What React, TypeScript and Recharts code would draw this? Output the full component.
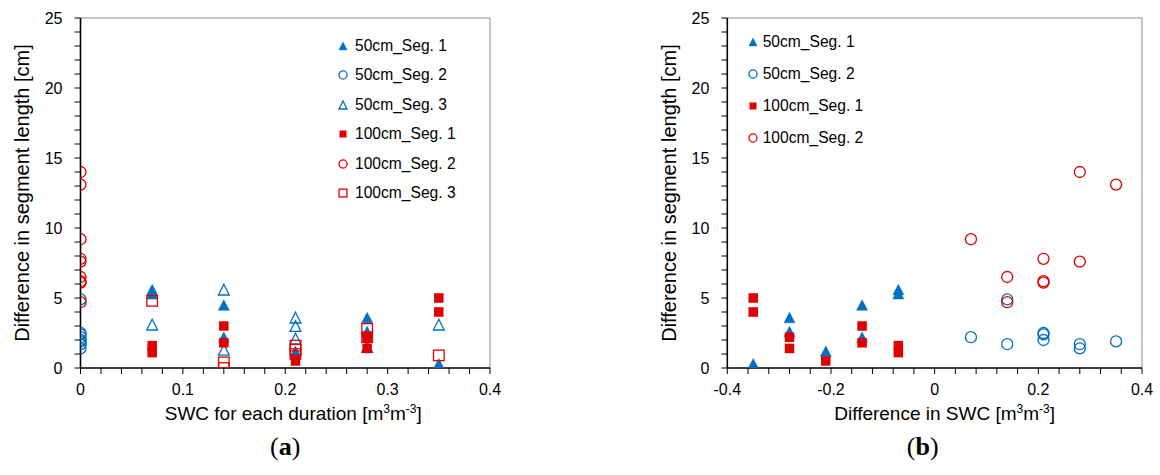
import React from 'react';
import { ScatterChart, Scatter, XAxis, YAxis, Legend, ReferenceLine, Label } from 'recharts';

const BLUE = '#0070C0';
const RED = '#E00000';
const FONT = '"Liberation Sans", Arial, sans-serif';

// ---------- Chart (a): SWC for each duration ----------
const a50s1X = [0.07, 0.07, 0.14, 0.14, 0.21, 0.28, 0.28, 0.35];
const a50s1Y = [5.6, 5.3, 4.5, 2.2, 1.2, 3.6, 2.6, 0.3];
const a50s2X = [0, 0, 0, 0, 0, 0, 0, 0, 0];
const a50s2Y = [2.2, 4.9, 1.7, 2.5, 2.4, 2.0, 1.7, 1.4, 1.9];
const a50s3X = [0.07, 0.14, 0.14, 0.21, 0.21, 0.21, 0.28, 0.35];
const a50s3Y = [3.1, 5.6, 1.3, 3.6, 3.0, 2.1, 1.5, 3.1];
const a100s1X = [0.07, 0.07, 0.14, 0.14, 0.21, 0.28, 0.28, 0.35, 0.35];
const a100s1Y = [1.6, 1.1, 3.0, 1.8, 0.5, 2.2, 1.4, 5.0, 4.0];
const a100s2X = [0, 0, 0, 0, 0, 0, 0, 0, 0];
const a100s2Y = [9.2, 6.5, 4.7, 7.8, 6.2, 6.1, 14.0, 7.6, 13.1];
const a100s3X = [0.07, 0.14, 0.14, 0.21, 0.21, 0.21, 0.28, 0.28, 0.35];
const a100s3Y = [4.8, 0.4, 0.0, 1.6, 1.3, 1.0, 2.8, 2.2, 0.9];

// ---------- Chart (b): Difference in SWC ----------
const b50s1X = [-0.35, -0.28, -0.28, -0.21, -0.14, -0.14, -0.07, -0.07];
const b50s1Y = [0.3, 3.6, 2.6, 1.2, 4.5, 2.2, 5.6, 5.3];
const b50s2X = [0.07, 0.14, 0.14, 0.21, 0.21, 0.21, 0.28, 0.28, 0.35];
const b50s2Y = [2.2, 4.9, 1.7, 2.5, 2.4, 2.0, 1.7, 1.4, 1.9];
const b100s1X = [-0.35, -0.35, -0.28, -0.28, -0.21, -0.14, -0.14, -0.07, -0.07];
const b100s1Y = [5.0, 4.0, 2.2, 1.4, 0.5, 3.0, 1.8, 1.6, 1.1];
const b100s2X = [0.07, 0.14, 0.14, 0.21, 0.21, 0.21, 0.28, 0.28, 0.35];
const b100s2Y = [9.2, 6.5, 4.7, 7.8, 6.2, 6.1, 14.0, 7.6, 13.1];

// ---------- Ticks ----------
const yTicks = [0, 1, 2, 3, 4, 5, 6, 7, 8, 9, 10, 11, 12, 13, 14, 15, 16, 17, 18, 19, 20, 21, 22, 23, 24, 25];
const yMajor = [0, 5, 10, 15, 20, 25];
const xTicksA = [0, 0.02, 0.04, 0.06, 0.08, 0.1, 0.12, 0.14, 0.16, 0.18, 0.2, 0.22, 0.24, 0.26, 0.28, 0.3, 0.32, 0.34, 0.36, 0.38, 0.4];
const xMajorA = [0, 0.1, 0.2, 0.3, 0.4];
const xLabelsA = ['0', '0.1', '0.2', '0.3', '0.4'];
const xTicksB = [-0.4, -0.36, -0.32, -0.28, -0.24, -0.2, -0.16, -0.12, -0.08, -0.04, 0, 0.04, 0.08, 0.12, 0.16, 0.2, 0.24, 0.28, 0.32, 0.36, 0.4];
const xMajorB = [-0.4, -0.2, 0, 0.2, 0.4];
const xLabelsB = ['-0.4', '-0.2', '0', '0.2', '0.4'];

const legendA = [
  { kind: 'triF', label: '50cm_Seg. 1' },
  { kind: 'circB', label: '50cm_Seg. 2' },
  { kind: 'triH', label: '50cm_Seg. 3' },
  { kind: 'sqF', label: '100cm_Seg. 1' },
  { kind: 'circR', label: '100cm_Seg. 2' },
  { kind: 'sqH', label: '100cm_Seg. 3' },
];
const legendB = [
  { kind: 'triF', label: '50cm_Seg. 1' },
  { kind: 'circB', label: '50cm_Seg. 2' },
  { kind: 'sqF', label: '100cm_Seg. 1' },
  { kind: 'circR', label: '100cm_Seg. 2' },
];

const toPts = (xs: number[], ys: number[]) => xs.map((x, i) => ({ x, y: ys[i] }));

const labelFor = (majors: number[], labels: string[]) => (v: number) => {
  const idx = majors.findIndex((m) => Math.abs(m - v) < 1e-9);
  return idx >= 0 ? labels[idx] : '';
};
const yFmt = labelFor(yMajor, yMajor.map(String));

function drawMarker(kind: string, cx: number, cy: number, s: number) {
  if (kind === 'triF') {
    const w = 11 * s, h = 10.5 * s;
    return <path d={`M${cx},${cy - h / 2}L${cx + w / 2},${cy + h / 2}L${cx - w / 2},${cy + h / 2}Z`} fill={BLUE} stroke={BLUE} strokeWidth={0.5} />;
  }
  if (kind === 'triH') {
    const w = 10.8 * s, h = 10.8 * s;
    return <path d={`M${cx},${cy - h / 2}L${cx + w / 2},${cy + h / 2}L${cx - w / 2},${cy + h / 2}Z`} fill="none" stroke={BLUE} strokeWidth={1.3} strokeLinejoin="miter" />;
  }
  if (kind === 'circB' || kind === 'circR') {
    return <circle cx={cx} cy={cy} r={5.5 * s} fill="none" stroke={kind === 'circB' ? BLUE : RED} strokeWidth={1.3} />;
  }
  if (kind === 'sqF') {
    const a = 9.5 * s;
    return <rect x={cx - a / 2} y={cy - a / 2} width={a} height={a} fill={RED} />;
  }
  const a = 10.6 * s;
  return <rect x={cx - a / 2} y={cy - a / 2} width={a} height={a} fill="none" stroke={RED} strokeWidth={1.3} />;
}

const shapeOf = (kind: string) => (p: any) => <g>{drawMarker(kind, p.cx, p.cy, 1)}</g>;

const LegendBox = ({ items, rowH, gap }: { items: { kind: string; label: string }[]; rowH: number; gap: number }) => (
  <div style={{ position: 'relative', width: 170, height: rowH * items.length }}>
    {items.map((it, i) => (
      <div key={i} style={{ position: 'absolute', top: i * rowH, left: 0, height: rowH, display: 'flex', alignItems: 'center', whiteSpace: 'nowrap' }}>
        <svg width={14} height={14} style={{ display: 'block' }}>{drawMarker(it.kind, 7, 7, 0.74)}</svg>
        <span style={{ marginLeft: gap, fontFamily: FONT, fontSize: 15.6, color: '#000', lineHeight: '16px' }}>{it.label}</span>
      </div>
    ))}
  </div>
);

const Sup = ({ children }: { children: string }) => (
  <tspan dy={-7} fontSize={12}>{children}</tspan>
);

const XTitle = (text: string, tag: string, shift: number, tagShift: number) => (props: any) => {
  const vb = props.viewBox || { x: 0, y: 0, width: 0, height: 0 };
  const cx = vb.x + vb.width / 2 + shift;
  return (
    <g>
      <text x={cx} y={vb.y + 52} textAnchor="middle" fontFamily={FONT} fontSize={19} fill="#000">
        {text}[m<Sup>3</Sup><tspan dy={7}>m</tspan><Sup>-3</Sup><tspan dy={7}>]</tspan>
      </text>
      <text x={vb.x + vb.width / 2 + tagShift} y={vb.y + 87} textAnchor="middle" fontFamily='"Liberation Serif", serif' fontSize={26} fill="#000">
        (<tspan fontWeight="bold">{tag}</tspan>)
      </text>
    </g>
  );
};

const YTitle = (props: any) => {
  const vb = props.viewBox || { x: 0, y: 0, width: 0, height: 0 };
  const x = vb.x + vb.width - 58.5;
  const y = vb.y + vb.height / 2;
  return (
    <text x={x} y={y} transform={`rotate(-90, ${x}, ${y})`} textAnchor="middle" dominantBaseline="central" fontFamily={FONT} fontSize={20} fill="#000">
      Difference in segment length [cm]
    </text>
  );
};

const tickStyle = { fontSize: 16, fill: '#000', fontFamily: FONT };

export default function App() {
  return (
    <div style={{ position: 'absolute', left: 0, top: 0, width: 1160, height: 475, background: '#fff' }}>
      <div style={{ position: 'absolute', left: 0, top: 0 }}>
        <ScatterChart width={560} height={475} margin={{ top: 18, right: 70, bottom: 0, left: 0 }}>
          <XAxis type="number" dataKey="x" domain={[0, 0.4]} ticks={xTicksA} interval={0} tickFormatter={labelFor(xMajorA, xLabelsA)}
            height={107} tickSize={6} tickMargin={10} tick={tickStyle} axisLine={{ stroke: '#000', strokeWidth: 1.6 }} tickLine={{ stroke: '#000', strokeWidth: 1 }} allowDataOverflow>
            <Label content={XTitle('SWC for each duration ', 'a', 8, 0)} />
          </XAxis>
          <YAxis type="number" dataKey="y" domain={[0, 25]} ticks={yTicks} interval={0} tickFormatter={yFmt}
            width={80.5} tickSize={6} tickMargin={12} tick={tickStyle} axisLine={{ stroke: '#000', strokeWidth: 1.6 }} tickLine={{ stroke: '#000', strokeWidth: 1 }} allowDataOverflow>
            <Label content={YTitle} />
          </YAxis>
          <ReferenceLine y={25} stroke="#8c8c8c" strokeWidth={1} />
          <ReferenceLine x={0.4} stroke="#8c8c8c" strokeWidth={1} />
          <Scatter name="50cm_Seg. 1" data={toPts(a50s1X, a50s1Y)} shape={shapeOf('triF')} isAnimationActive={false} />
          <Scatter name="50cm_Seg. 2" data={toPts(a50s2X, a50s2Y)} shape={shapeOf('circB')} isAnimationActive={false} />
          <Scatter name="50cm_Seg. 3" data={toPts(a50s3X, a50s3Y)} shape={shapeOf('triH')} isAnimationActive={false} />
          <Scatter name="100cm_Seg. 1" data={toPts(a100s1X, a100s1Y)} shape={shapeOf('sqF')} isAnimationActive={false} />
          <Scatter name="100cm_Seg. 2" data={toPts(a100s2X, a100s2Y)} shape={shapeOf('circR')} isAnimationActive={false} />
          <Scatter name="100cm_Seg. 3" data={toPts(a100s3X, a100s3Y)} shape={shapeOf('sqH')} isAnimationActive={false} />
          <Legend layout="horizontal" verticalAlign="middle" align="center"
            wrapperStyle={{ position: 'absolute', left: 336, top: 46 - 14.7, width: 170, height: 180 }}
            content={() => <LegendBox items={legendA} rowH={29.4} gap={5} />} />
        </ScatterChart>
      </div>
      <div style={{ position: 'absolute', left: 580, top: 0 }}>
        <ScatterChart width={580} height={475} margin={{ top: 18, right: 18, bottom: 0, left: 0 }}>
          <XAxis type="number" dataKey="x" domain={[-0.4, 0.4]} ticks={xTicksB} interval={0} tickFormatter={labelFor(xMajorB, xLabelsB)}
            height={107} tickSize={6} tickMargin={10} tick={tickStyle} axisLine={{ stroke: '#000', strokeWidth: 1.6 }} tickLine={{ stroke: '#000', strokeWidth: 1 }} allowDataOverflow>
            <Label content={XTitle('Difference in SWC ', 'b', 10, -12)} />
          </XAxis>
          <YAxis type="number" dataKey="y" domain={[0, 25]} ticks={yTicks} interval={0} tickFormatter={yFmt}
            width={147.3} tickSize={6} tickMargin={12} tick={tickStyle} axisLine={{ stroke: '#000', strokeWidth: 1.6 }} tickLine={{ stroke: '#000', strokeWidth: 1 }} allowDataOverflow>
            <Label content={YTitle} />
          </YAxis>
          <ReferenceLine y={25} stroke="#8c8c8c" strokeWidth={1} />
          <ReferenceLine x={0.4} stroke="#8c8c8c" strokeWidth={1} />
          <Scatter name="50cm_Seg. 1" data={toPts(b50s1X, b50s1Y)} shape={shapeOf('triF')} isAnimationActive={false} />
          <Scatter name="50cm_Seg. 2" data={toPts(b50s2X, b50s2Y)} shape={shapeOf('circB')} isAnimationActive={false} />
          <Scatter name="100cm_Seg. 1" data={toPts(b100s1X, b100s1Y)} shape={shapeOf('sqF')} isAnimationActive={false} />
          <Scatter name="100cm_Seg. 2" data={toPts(b100s2X, b100s2Y)} shape={shapeOf('circR')} isAnimationActive={false} />
          <Legend layout="horizontal" verticalAlign="middle" align="center"
            wrapperStyle={{ position: 'absolute', left: 745.7 - 580, top: 41.7 - 16, width: 170, height: 130 }}
            content={() => <LegendBox items={legendB} rowH={32.1} gap={3} />} />
        </ScatterChart>
      </div>
    </div>
  );
}
